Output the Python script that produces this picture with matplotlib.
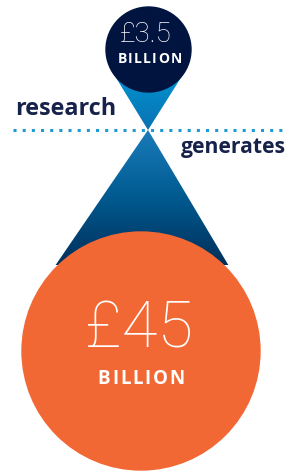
import numpy as np
import matplotlib
matplotlib.use("Agg")
import matplotlib.pyplot as plt
from matplotlib.patches import Circle, Polygon
from matplotlib.colors import LinearSegmentedColormap

# data
amounts = ["£3.5", "£45"]
units = ["BILLION", "BILLION"]
words = ["research", "generates"]

# layout (pixel coords, y down)
W, H = 295, 472
apex = np.array([148.0, 130.0])
small_c, small_r = np.array([148.5, 49.5]), 42.5
big_c, big_r = np.array([141.0, 351.0]), 119.0

navy = "#00143f"
orange = "#f26834"
text_navy = "#16224a"
dot_blue = "#1f9ad6"


def tangents(p, c, r):
    v = c - p
    d = np.hypot(*v)
    th = np.arcsin(r / d)
    L = np.sqrt(d * d - r * r)
    u = v / d
    out = []
    for s in (1, -1):
        a = s * th
        rot = np.array([u[0] * np.cos(a) - u[1] * np.sin(a),
                        u[0] * np.sin(a) + u[1] * np.cos(a)])
        out.append(p + L * rot)
    return out


def gradient_cone(ax, c, r, y0, y1, colors):
    t1, t2 = tangents(apex, c, r)
    poly = Polygon([apex, t1, c, t2], closed=True, facecolor="none",
                   edgecolor="none")
    ax.add_patch(poly)
    cmap = LinearSegmentedColormap.from_list("g", colors)
    grad = np.linspace(0, 1, 256).reshape(-1, 1)
    im = ax.imshow(grad, cmap=cmap, aspect="auto",
                   extent=(0, W, y1, y0), interpolation="bilinear", zorder=1)
    im.set_clip_path(poly)


def spaced_text(ax, fig, x, y, s, spacing, **kw):
    r = fig.canvas.get_renderer()
    widths = []
    for ch in s:
        t = ax.text(0, 0, ch, **kw)
        widths.append(t.get_window_extent(r).width)
        t.remove()
    total = sum(widths) + spacing * (len(s) - 1)
    cx = x - total / 2
    for ch, w in zip(s, widths):
        ax.text(cx + w / 2, y, ch, ha="center", va="center", **kw)
        cx += w + spacing


fig = plt.figure(figsize=(W / 100, H / 100), dpi=100)
ax = fig.add_axes([0, 0, 1, 1])
ax.set_xlim(0, W)
ax.set_ylim(H, 0)
ax.axis("off")

# cones
gradient_cone(ax, small_c, small_r, 60, apex[1],
              ["#009ad8", "#0a72b2"])
gradient_cone(ax, big_c, big_r, apex[1], 265,
              ["#1a7cba", "#005a90", "#002f5a"])

ax.add_patch(Circle(small_c, small_r, color=navy, zorder=3))
ax.add_patch(Circle(big_c, big_r, color=orange, zorder=3))

# dotted line
ax.plot([13, 283], [130, 130], linestyle=(0, (1, 2)), color=dot_blue,
        lw=2.2, zorder=2)

# words
ax.text(15, 109, words[0], fontsize=16.8, fontweight="bold", color=text_navy,
        family="Open Sans", ha="left", va="center", zorder=4)
ax.text(286, 147, words[1], fontsize=15.2, fontweight="bold", color=text_navy,
        family="Open Sans", ha="right", va="center", zorder=4)

# amounts
ax.text(146, 35, amounts[0], fontsize=20, fontweight="light", color="white",
        family="Roboto", ha="center", va="center", zorder=5)
spaced_text(ax, fig, 149.5, 59, units[0], 1.3, fontsize=10,
            fontweight="bold", color="white", family="Open Sans", zorder=5)

ax.text(139, 329, amounts[1], fontsize=47, fontweight="light", color="white",
        family="Roboto", ha="center", va="center", zorder=5)
spaced_text(ax, fig, 141, 379, units[1], 1.8, fontsize=13.5,
            fontweight="bold", color="white", family="Open Sans", zorder=5)

fig.savefig("out.png", dpi=100)
